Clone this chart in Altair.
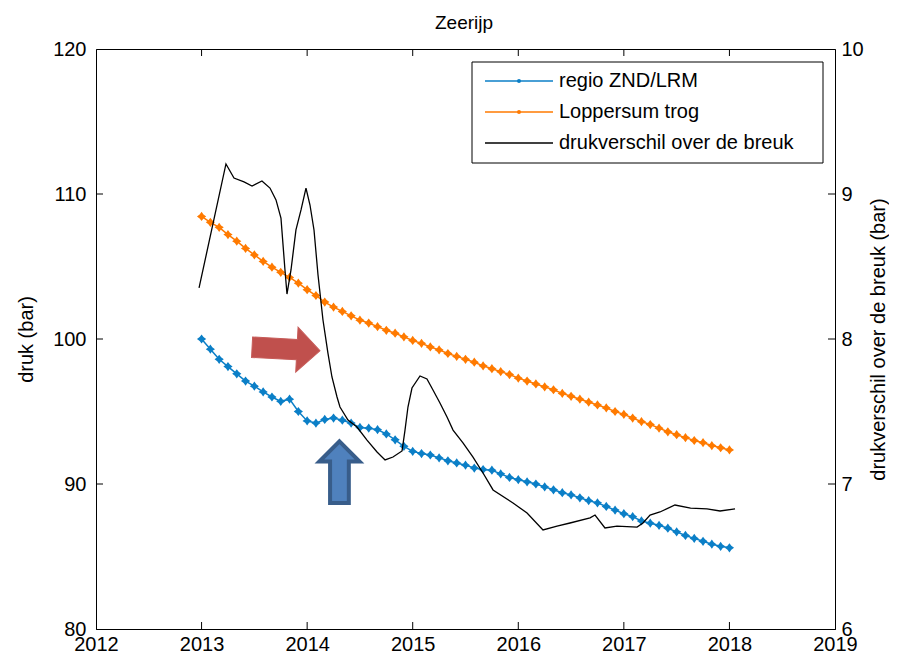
import altair as alt
import pandas as pd

FONT = "Liberation Sans, Arial, sans-serif"
BLUE = "#0b7fc7"
ORANGE = "#ff7a00"

# ---------------- data ----------------
chart_title = "Zeerijp"
months = list(range(61))  # monthly, Jan 2013 .. Jan 2018
blue_vals = [100.0, 99.3, 98.6, 98.1, 97.6, 97.1, 96.75, 96.35, 96.0, 95.7,
             95.85, 95.0, 94.35, 94.2, 94.45, 94.55, 94.4, 94.2, 93.9, 93.85,
             93.75, 93.45, 93.05, 92.6, 92.25, 92.1, 92.0, 91.8, 91.6, 91.45,
             91.3, 91.1, 91.0, 90.95, 90.7, 90.45, 90.3, 90.15, 90.0, 89.8,
             89.6, 89.4, 89.25, 89.05, 88.85, 88.7, 88.45, 88.2, 87.95, 87.75,
             87.45, 87.3, 87.15, 86.95, 86.7, 86.45, 86.25, 86.05, 85.85, 85.7,
             85.6]
orange_vals = [108.45, 108.05, 107.7, 107.2, 106.75, 106.25, 105.8, 105.35, 104.95, 104.6,
               104.25, 103.85, 103.4, 103.0, 102.55, 102.2, 101.9, 101.6, 101.3, 101.1,
               100.85, 100.6, 100.4, 100.15, 99.9, 99.7, 99.45, 99.25, 99.0, 98.8,
               98.6, 98.4, 98.15, 97.95, 97.75, 97.55, 97.3, 97.1, 96.9, 96.7,
               96.5, 96.25, 96.05, 95.85, 95.65, 95.45, 95.25, 95.0, 94.8, 94.55,
               94.3, 94.1, 93.85, 93.6, 93.4, 93.2, 93.0, 92.85, 92.65, 92.5,
               92.35]

black_years = [2012.976, 2013.231, 2013.307, 2013.402, 2013.478, 2013.572, 2013.648,
               2013.705, 2013.752, 2013.790, 2013.809, 2013.847, 2013.894, 2013.942,
               2013.989, 2014.027, 2014.065, 2014.103, 2014.150, 2014.197, 2014.235,
               2014.283, 2014.311, 2014.387, 2014.472, 2014.567, 2014.662, 2014.738,
               2014.813, 2014.899, 2014.927, 2014.955, 2014.993, 2015.069, 2015.135,
               2015.192, 2015.258, 2015.325, 2015.382, 2015.476, 2015.571, 2015.666,
               2015.761, 2015.950, 2016.083, 2016.234, 2016.367, 2016.490, 2016.680,
               2016.727, 2016.821, 2016.935, 2017.125, 2017.181, 2017.248, 2017.342,
               2017.484, 2017.632, 2017.788, 2017.911, 2018.053]
black_vals = [8.352, 9.207, 9.110, 9.083, 9.055, 9.090, 9.041,
              8.959, 8.834, 8.476, 8.310, 8.476, 8.752, 8.890,
              9.041, 8.924, 8.752, 8.441, 8.131, 7.903, 7.738,
              7.600, 7.531, 7.441, 7.393, 7.303, 7.221, 7.166,
              7.186, 7.228, 7.372, 7.531, 7.662, 7.745, 7.724,
              7.648, 7.559, 7.462, 7.372, 7.283, 7.186, 7.076,
              6.959, 6.869, 6.800, 6.683, 6.710, 6.731, 6.766,
              6.786, 6.697, 6.710, 6.703, 6.731, 6.786, 6.807,
              6.855, 6.834, 6.828, 6.814, 6.828]

x_ticks = [2012, 2013, 2014, 2015, 2016, 2017, 2018, 2019]
left_ticks = [80, 90, 100, 110, 120]
right_ticks = [6, 7, 8, 9, 10]

legend_labels = ["regio ZND/LRM", "Loppersum trog", "drukverschil over de breuk"]
legend_colors = [BLUE, ORANGE, "black"]

arrow_years = [2013.80, 2014.306]
arrow_druk = [99.31, 90.86]

# ---------------- frames ----------------
month_years = [2013 + m / 12 for m in months]
df_blue = pd.DataFrame({"year": month_years, "druk": blue_vals})
df_orange = pd.DataFrame({"year": month_years, "druk": orange_vals})
df_black = pd.DataFrame({"year": black_years, "dv": black_vals})
df_xt = pd.DataFrame({"year": x_ticks[1:-1]})
df_lt = pd.DataFrame({"druk": left_ticks[1:-1]})
df_rt = pd.DataFrame({"dv": right_ticks[1:-1]})
df_leg = pd.DataFrame({"label": legend_labels, "color": legend_colors,
                       "row": list(range(len(legend_labels)))})
df_red_arrow = pd.DataFrame({"year": [arrow_years[0]], "druk": [arrow_druk[0]]})
df_blue_arrow = pd.DataFrame({"year": [arrow_years[1]], "druk": [arrow_druk[1]]})
df_one = pd.DataFrame({"a": [0]})
df_title = pd.DataFrame({"t": [chart_title]})


def xdef():
    return alt.X("year:Q",
                 scale=alt.Scale(domain=[2012, 2019], nice=False, zero=False),
                 axis=alt.Axis(values=x_ticks, format="d", title=None, ticks=False,
                               tickSize=0, labelPadding=5, labelFlush=False,
                               labelOverlap=False, grid=False))


def yleft():
    return alt.Y("druk:Q",
                 scale=alt.Scale(domain=[80, 120], nice=False, zero=False),
                 axis=alt.Axis(values=left_ticks, title="druk (bar)", orient="left",
                               ticks=False, tickSize=0, labelPadding=10,
                               titlePadding=16, labelFlush=False, grid=False))


def yright():
    return alt.Y("dv:Q",
                 scale=alt.Scale(domain=[6, 10], nice=False, zero=False),
                 axis=alt.Axis(values=right_ticks, title="drukverschil over de breuk (bar)",
                               orient="right", ticks=False, tickSize=0, labelPadding=6,
                               titlePadding=25, titleAngle=270, labelFlush=False,
                               grid=False))


STAR = "M0,-1L0.42,-0.42L1,0L0.42,0.42L0,1L-0.42,0.42L-1,0L-0.42,-0.42Z"

blue_line = alt.Chart(df_blue).mark_line(color=BLUE, strokeWidth=1.5).encode(x=xdef(), y=yleft())
blue_pts = alt.Chart(df_blue).mark_point(shape=STAR, size=85, filled=True, opacity=1,
                                         color=BLUE).encode(x=xdef(), y=yleft())
orange_line = alt.Chart(df_orange).mark_line(color=ORANGE, strokeWidth=1.5).encode(x=xdef(), y=yleft())
orange_pts = alt.Chart(df_orange).mark_point(shape=STAR, size=85, filled=True, opacity=1,
                                             color=ORANGE).encode(x=xdef(), y=yleft())

xt_bottom = alt.Chart(df_xt).mark_rule(color="black", strokeWidth=1).encode(
    x=xdef(), y=alt.value(580), y2=alt.value(573))
xt_top = alt.Chart(df_xt).mark_rule(color="black", strokeWidth=1).encode(
    x=xdef(), y=alt.value(0), y2=alt.value(7))
lt = alt.Chart(df_lt).mark_rule(color="black", strokeWidth=1).encode(
    y=yleft(), x=alt.value(0), x2=alt.value(7))

RED_ARROW = "M-1,-0.3L0.32,-0.3L0.32,-0.66L1,0L0.32,0.66L0.32,0.3L-1,0.3Z"
BLUE_ARROW = "M0,-0.9L0.6,-0.3L0.28,-0.3L0.28,0.94L-0.28,0.94L-0.28,-0.3L-0.6,-0.3Z"

red_arrow = alt.Chart(df_red_arrow).mark_point(
    shape=RED_ARROW, size=4624, filled=True, opacity=1, fill="#c0504d",
    stroke="#c65b58", strokeWidth=1, angle=3).encode(x=xdef(), y=yleft())
blue_arrow = alt.Chart(df_blue_arrow).mark_point(
    shape=BLUE_ARROW, size=4489, filled=True, opacity=1, fill="#4f81bd",
    stroke="#385d8a", strokeWidth=4).encode(x=xdef(), y=yleft())

# legend (manual)
leg_box = alt.Chart(df_one).mark_rect(fill="white", stroke="black", strokeWidth=1).encode(
    x=alt.value(376), x2=alt.value(727), y=alt.value(13), y2=alt.value(114))
leg_base = alt.Chart(df_leg).transform_calculate(py="32 + 31 * datum.row")
leg_lines = leg_base.mark_rule(strokeWidth=1.5).encode(
    x=alt.value(389), x2=alt.value(457),
    y=alt.Y("py:Q", scale=None, axis=None),
    color=alt.Color("color:N", scale=None))
leg_dots = leg_base.transform_filter("datum.row < 2").mark_point(
    shape="circle", size=16, filled=True, opacity=1).encode(
    x=alt.value(423), y=alt.Y("py:Q", scale=None, axis=None),
    color=alt.Color("color:N", scale=None))
leg_text = leg_base.mark_text(align="left", baseline="middle", fontSize=20, font=FONT,
                              color="black").encode(
    x=alt.value(463), y=alt.Y("py:Q", scale=None, axis=None), text="label:N")

title_text = alt.Chart(df_title).mark_text(
    align="center", baseline="alphabetic", fontSize=19, font=FONT, color="black"
).encode(x=alt.value(368), y=alt.value(-20), text="t:N")

left = alt.layer(orange_line, orange_pts, blue_line, blue_pts, xt_bottom, xt_top, lt,
                 red_arrow, blue_arrow, leg_box, leg_lines, leg_dots, leg_text, title_text)

black_line = alt.Chart(df_black).mark_line(color="black", strokeWidth=1.3).encode(
    x=xdef(), y=yright())
rt = alt.Chart(df_rt).mark_rule(color="black", strokeWidth=1).encode(
    y=yright(), x=alt.value(739), x2=alt.value(732))
right = alt.layer(black_line, rt)

chart = alt.layer(left, right).resolve_scale(y="independent").properties(
    width=739, height=580,
    autosize=alt.AutoSizeParams(type="none"),
    padding={"left": 88, "top": 41, "right": 54, "bottom": 24},
).configure_view(stroke="black", strokeWidth=1).configure_axis(
    domainColor="black", domainWidth=1, labelColor="black", titleColor="black",
    labelFont=FONT, titleFont=FONT, labelFontSize=20, titleFontSize=20,
    titleFontWeight="normal", grid=False
)

chart.save("out.html", embed_options={"renderer": "svg", "actions": False})
